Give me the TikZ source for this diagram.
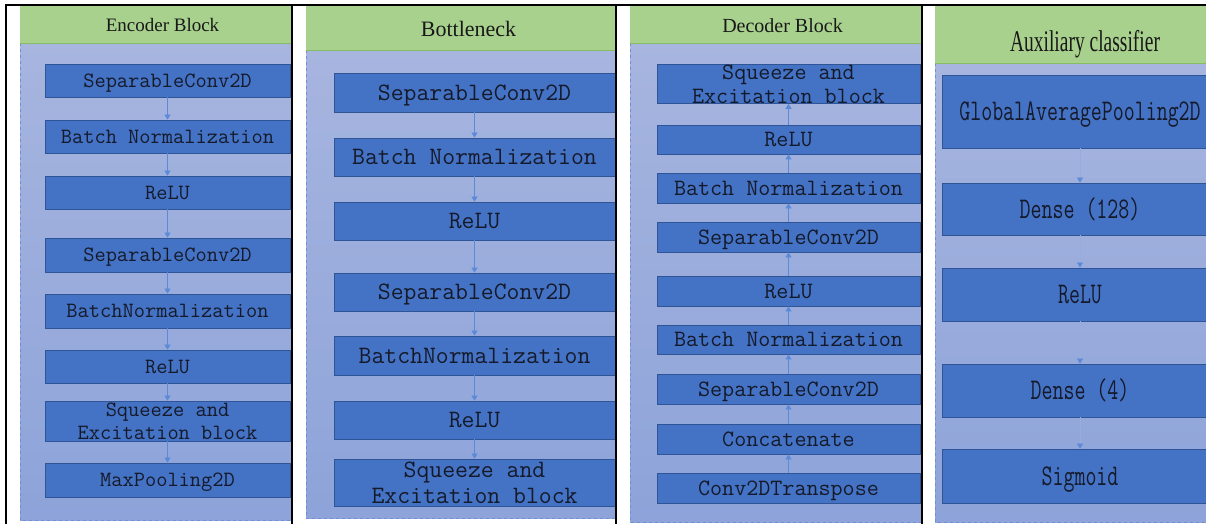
\documentclass[tikz,border=0pt]{standalone}
\usepackage{fontspec}
\setmainfont{Liberation Serif}
\newfontfamily\condserif[FakeStretch=0.65]{Liberation Serif}
\usetikzlibrary{arrows.meta}
\newcommand\narrowtxt[1]{\scalebox{0.71}[1]{#1}}
\definecolor{hdrfill}{HTML}{A9D18E}
\definecolor{hdrline}{HTML}{86BD62}
\definecolor{bodytop}{HTML}{A7B5DF}
\definecolor{bodybot}{HTML}{8DA3D9}
\definecolor{bodyedge}{HTML}{6E8FD4}
\definecolor{boxfill}{HTML}{4472C4}
\definecolor{boxedge}{HTML}{2F5597}
\definecolor{txt}{HTML}{151A2A}
\definecolor{arr}{HTML}{5B8AD8}
\begin{document}
\begin{tikzpicture}[x=1pt,y=-1pt,
  layer/.style={draw=boxedge, fill=boxfill, line width=0.8pt, inner sep=0pt,
    text=txt, align=center, text depth=0pt},
  twoline/.style={text height={}, text depth={}},
  cA/.style={layer, minimum width=245pt, font=\ttfamily\fontsize{21.8}{23}\selectfont, text height=13.3pt},
  cB/.style={layer, minimum width=281pt, font=\ttfamily\fontsize{25}{26}\selectfont, text height=15.3pt},
  cC/.style={layer, minimum width=263pt, font=\ttfamily\fontsize{23.4}{24}\selectfont, text height=14.3pt},
  cD/.style={layer, minimum width=276pt, font=\ttfamily\fontsize{30}{34}\selectfont, text height=18.3pt},
  hdrbox/.style={fill=hdrfill, inner sep=0pt},
  hdrtext/.style={inner sep=0pt, text=black!90, text depth=0pt},
  flow/.style={draw=arr, line width=0.7pt, -{Triangle[width=6pt,length=5pt]}},
  faintflow/.style={draw=arr!22!bodytop, line width=0.7pt, -{Triangle[width=6pt,length=5pt,color=arr]}},
  frame/.style={line width=2.2pt, draw=black}
]
\useasboundingbox (0,0) rectangle (1206,524);
\clip (0,0) rectangle (1206,524);

% ---- panels (bodies) ----
\path[top color=bodytop, bottom color=bodybot] (20,43) rectangle (292,520);
\draw[bodyedge, dashed, line width=0.6pt] (20,43) -- (20,520) -- (292,520);
\path[top color=bodytop, bottom color=bodybot] (306,50) rectangle (616,518);
\draw[bodyedge, dashed, line width=0.6pt] (306,50) -- (306,518) -- (616,518);
\path[top color=bodytop, bottom color=bodybot] (630,43) rectangle (922,522);
\draw[bodyedge, dashed, line width=0.6pt] (630,43) -- (630,522) -- (922,522);
\path[top color=bodytop, bottom color=bodybot] (935,63) rectangle (1218,522);
\draw[bodyedge, dashed, line width=0.6pt] (935,63) -- (935,522) -- (1218,522);

% ---- headers ----
\node[hdrbox, minimum width=272pt, minimum height=37pt] (h1) at (156,24.5) {};
\node[hdrbox, minimum width=310pt, minimum height=44pt] (h2) at (461,28) {};
\node[hdrbox, minimum width=292pt, minimum height=37pt] (h3) at (776,24.5) {};
\node[hdrbox, minimum width=283pt, minimum height=57pt] (h4) at (1076.5,34.5) {};
\draw[hdrline, line width=0.8pt] (h1.south west) -- (h1.south east);
\draw[hdrline, line width=0.8pt] (h2.south west) -- (h2.south east);
\draw[hdrline, line width=0.8pt] (h3.south west) -- (h3.south east);
\draw[hdrline, line width=0.8pt] (h4.south west) -- (h4.south east);
\node[hdrtext, font=\fontsize{19}{22}\selectfont, text height=12.5pt] (t1) at (162.5,25) {Encoder Block};
\node[hdrtext, font=\fontsize{22}{26}\selectfont, text height=14.5pt] (t2) at (468.5,29) {Bottleneck};
\node[hdrtext, font=\fontsize{20}{24}\selectfont, text height=13.2pt] (t3) at (782.5,25.5) {Decoder Block};
\node[hdrtext, font=\condserif\fontsize{30}{34}\selectfont, text height=19.8pt] (t4) at (1085,41.5) {Auxiliary classifier};

% ---- Encoder ----
\node[cA, minimum height=33pt] (e1) at (167.5,80.5) {SeparableConv2D};
\node[cA, minimum height=33pt] (e2) at (167.5,136.5) {Batch Normalization};
\node[cA, minimum height=33pt] (e3) at (167.5,192.5) {ReLU};
\node[cA, minimum height=34pt] (e4) at (167.5,255) {SeparableConv2D};
\node[cA, minimum height=34pt] (e5) at (167.5,311) {BatchNormalization};
\node[cA, minimum height=33pt] (e6) at (167.5,366.5) {ReLU};
\node[cA, twoline, minimum height=40pt] (e7) at (167.5,421) {Squeeze and\\Excitation block};
\node[cA, minimum height=34pt] (e8) at (167.5,480) {MaxPooling2D};
\foreach \a/\b in {e1/e2,e2/e3,e3/e4,e4/e5,e5/e6,e6/e7,e7/e8}
  \draw[flow] (\a) -- (\b);

% ---- Bottleneck ----
\node[cB, minimum height=39pt] (b1) at (474.5,92.5) {SeparableConv2D};
\node[cB, minimum height=38pt] (b2) at (474.5,157) {Batch Normalization};
\node[cB, minimum height=38pt] (b3) at (474.5,221) {ReLU};
\node[cB, minimum height=38pt] (b4) at (474.5,292) {SeparableConv2D};
\node[cB, minimum height=39pt] (b5) at (474.5,355.5) {BatchNormalization};
\node[cB, minimum height=38pt] (b6) at (474.5,420) {ReLU};
\node[cB, twoline, minimum height=47pt] (b7) at (474.5,482.5) {Squeeze and\\Excitation block};
\foreach \a/\b in {b1/b2,b2/b3,b3/b4,b4/b5,b5/b6,b6/b7}
  \draw[flow] (\a) -- (\b);

% ---- Decoder ----
\node[cC, twoline, minimum height=38pt] (d1) at (788.5,84) {Squeeze and\\Excitation block};
\node[cC, minimum height=29pt] (d2) at (788.5,139.5) {ReLU};
\node[cC, minimum height=30pt] (d3) at (788.5,188) {Batch Normalization};
\node[cC, minimum height=30pt] (d4) at (788.5,237) {SeparableConv2D};
\node[cC, minimum height=30pt] (d5) at (788.5,291) {ReLU};
\node[cC, minimum height=29pt] (d6) at (788.5,339.5) {Batch Normalization};
\node[cC, minimum height=30pt] (d7) at (788.5,389) {SeparableConv2D};
\node[cC, minimum height=30pt] (d8) at (788.5,439) {Concatenate};
\node[cC, minimum height=30pt] (d9) at (788.5,488) {Conv2DTranspose};
\foreach \a/\b in {d9/d8,d8/d7,d7/d6,d6/d5,d5/d4,d4/d3,d3/d2,d2/d1}
  \draw[flow] (\a) -- (\b);

% ---- Auxiliary classifier ----
\node[cD, minimum height=73pt] (a1) at (1080,111.5) {\narrowtxt{GlobalAveragePooling2D}};
\node[cD, minimum height=52pt] (a2) at (1080,209) {\narrowtxt{Dense (128)}};
\node[cD, minimum height=53pt] (a3) at (1080,294.5) {\narrowtxt{ReLU}};
\node[cD, minimum height=53pt] (a4) at (1080,390.5) {\narrowtxt{Dense (4)}};
\node[cD, minimum height=54pt] (a5) at (1080,476) {\narrowtxt{Sigmoid}};
\foreach \a/\b in {a1/a2,a2/a3,a3/a4,a4/a5}
  \draw[faintflow] (\a) -- (\b);

% ---- black table rules ----
\draw[frame] (5,5) -- (1206,5);
\draw[frame] (6,5) -- (6,524);
\draw[frame] (292,5) -- (292,524);
\draw[frame] (616,5) -- (616,524);
\draw[frame] (922,5) -- (922,524);
\end{tikzpicture}
\end{document}
